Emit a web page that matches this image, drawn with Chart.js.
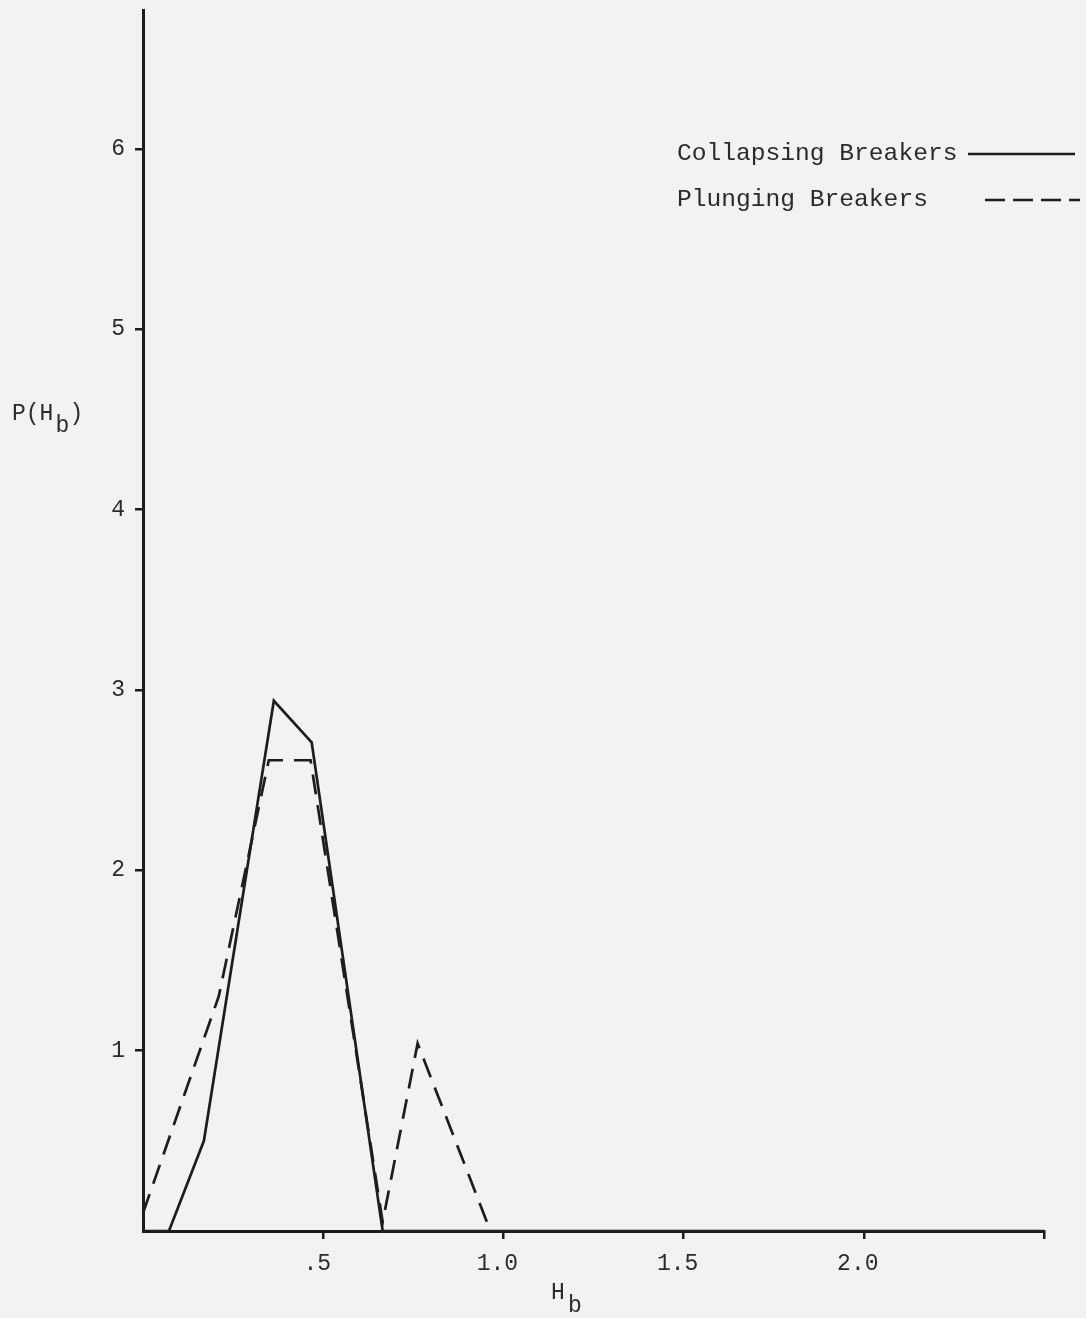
<!DOCTYPE html>
<html>
<head>
<meta charset="utf-8">
<title>P(Hb) – Collapsing and Plunging Breakers</title>
<script src="https://cdn.jsdelivr.net/npm/chart.js@4.4.1/dist/chart.umd.min.js"></script>
<style>
  html, body { margin: 0; padding: 0; background: #f2f2f0; }
  #wrap { width: 1086px; height: 1318px; }
  canvas { display: block; background: #f2f2f0; }
</style>
</head>
<body>
<div id="wrap"><canvas id="chart" width="1086" height="1318"></canvas></div>
<script>
// Breaker height probability density, P(Hb), by breaker type
const collapsingX = [0.0, 0.072, 0.169, 0.363, 0.468, 0.665, 2.5];
const collapsingY = [0.0, 0.0, 0.50, 2.94, 2.71, 0.0, 0.0];

const plungingX = [0.0, 0.21, 0.349, 0.465, 0.665, 0.762, 0.964];
const plungingY = [0.10, 1.30, 2.61, 2.61, 0.05, 1.04, 0.0];

const xTickValues = [0.5, 1.0, 1.5, 2.0, 2.5];
const xTickLabels = ['.5', '1.0', '1.5', '2.0', ''];
const yTickValues = [1, 2, 3, 4, 5, 6];
const yTickLabels = ['1', '2', '3', '4', '5', '6'];

const seriesLabels = ['Collapsing Breakers', 'Plunging Breakers'];

const INK = '#1d1d1d';
const TEXT = '#2b2b2b';
const MONO = '"Liberation Mono", "Courier New", "DejaVu Sans Mono", monospace';

function toPoints(xs, ys) {
  return xs.map((x, i) => ({ x: x, y: ys[i] }));
}

// Typewriter-style legend to the upper right: label followed by a line sample
const sideLegend = {
  id: 'sideLegend',
  afterDraw(chart) {
    const ctx = chart.ctx;
    const rows = [
      { y: 153, x0: 968, x1: 1075, dash: [] },
      { y: 199, x0: 985, x1: 1080, dash: [20, 8] }
    ];
    ctx.save();
    ctx.font = '24.6px ' + MONO;
    ctx.fillStyle = TEXT;
    ctx.textBaseline = 'middle';
    ctx.textAlign = 'left';
    chart.data.datasets.forEach((ds, i) => {
      const r = rows[i];
      ctx.fillText(ds.label, 677, r.y);
      ctx.beginPath();
      ctx.setLineDash(r.dash);
      ctx.lineWidth = 2.6;
      ctx.strokeStyle = INK;
      ctx.moveTo(r.x0, r.y + 1);
      ctx.lineTo(r.x1, r.y + 1);
      ctx.stroke();
    });
    ctx.restore();
  }
};

// Axis titles with a subscript b
const subscriptTitles = {
  id: 'subscriptTitles',
  afterDraw(chart) {
    const ctx = chart.ctx;
    ctx.save();
    ctx.font = '23px ' + MONO;
    ctx.fillStyle = TEXT;
    ctx.textBaseline = 'middle';
    ctx.textAlign = 'left';
    // y-axis title P(Hb)
    ctx.fillText('P(H', 12, 414);
    const w = ctx.measureText('P(H').width;
    ctx.fillText('b', 12 + w + 2, 426);
    ctx.fillText(')', 12 + w + 16, 414);
    // x-axis title Hb
    ctx.fillText('H', 551, 1293);
    ctx.fillText('b', 568, 1306);
    ctx.restore();
  }
};

new Chart(document.getElementById('chart'), {
  type: 'line',
  data: {
    datasets: [
      {
        label: seriesLabels[0],
        data: toPoints(collapsingX, collapsingY),
        borderColor: INK,
        borderWidth: 2.7,
        borderDash: [],
        pointRadius: 0,
        tension: 0,
        fill: false,
        clip: 6
      },
      {
        label: seriesLabels[1],
        data: toPoints(plungingX, plungingY),
        borderColor: INK,
        borderWidth: 2.7,
        borderDash: [20, 11],
        pointRadius: 0,
        tension: 0,
        fill: false,
        clip: 6
      }
    ]
  },
  options: {
    responsive: false,
    animation: false,
    parsing: false,
    layout: { padding: { top: 10, right: 42, left: 0, bottom: 0 } },
    plugins: {
      legend: { display: false },
      title: { display: false },
      tooltip: { enabled: false }
    },
    scales: {
      x: {
        type: 'linear',
        min: 0,
        max: 2.5,
        afterFit(scale) {
          scale.height = 87;
          scale.paddingLeft = 0;
          scale.paddingRight = 0;
        },
        afterBuildTicks(scale) {
          scale.ticks = xTickValues.map(v => ({ value: v }));
        },
        ticks: {
          autoSkip: false,
          maxRotation: 0,
          padding: 11,
          labelOffset: -6,
          color: TEXT,
          font: { family: MONO, size: 23 },
          callback(value) {
            const i = xTickValues.indexOf(value);
            return i >= 0 ? xTickLabels[i] : '';
          }
        },
        grid: {
          drawOnChartArea: false,
          drawTicks: true,
          tickLength: 8,
          lineWidth: 2.5,
          color: INK
        },
        border: { display: true, width: 3, color: INK }
      },
      y: {
        type: 'linear',
        min: 0,
        max: 6.77,
        afterFit(scale) {
          scale.width = 143;
          scale.paddingTop = 0;
          scale.paddingBottom = 0;
        },
        afterBuildTicks(scale) {
          scale.ticks = yTickValues.map(v => ({ value: v }));
        },
        ticks: {
          autoSkip: false,
          padding: 10,
          color: TEXT,
          font: { family: MONO, size: 23 },
          callback(value) {
            const i = yTickValues.indexOf(value);
            return i >= 0 ? yTickLabels[i] : '';
          }
        },
        grid: {
          drawOnChartArea: false,
          drawTicks: true,
          tickLength: 8,
          lineWidth: 2.5,
          color: INK
        },
        border: { display: true, width: 3, color: INK }
      }
    }
  },
  plugins: [sideLegend, subscriptTitles]
});
</script>
</body>
</html>
